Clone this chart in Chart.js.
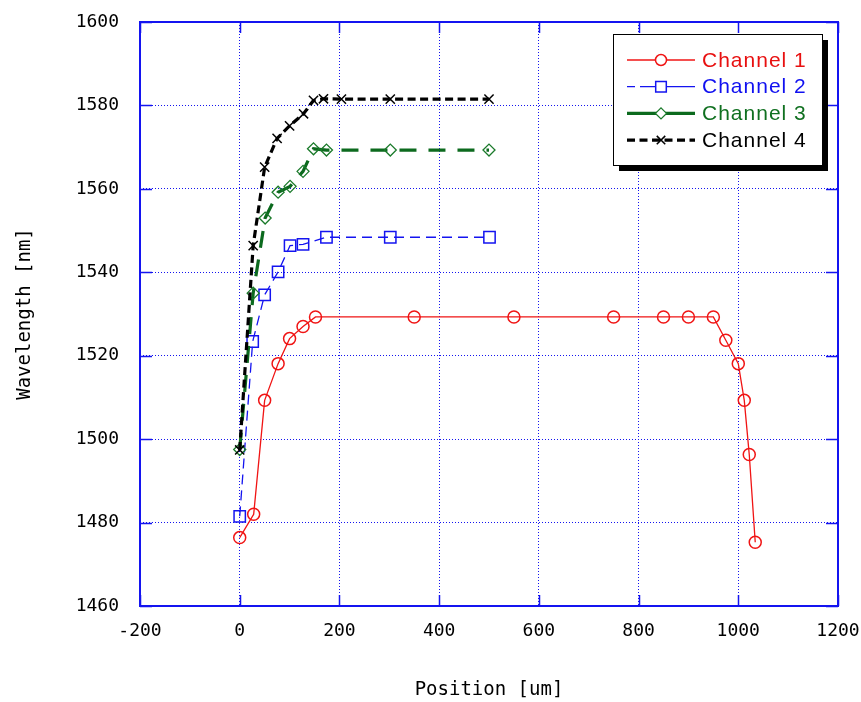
<!DOCTYPE html>
<html>
<head>
<meta charset="utf-8">
<title>Channel wavelength vs position</title>
<script src="https://cdn.jsdelivr.net/npm/chart.js@4.4.0/dist/chart.umd.min.js"></script>
<style>
  html, body { margin: 0; padding: 0; background: #fff; }
  #wrap { width: 861px; height: 702px; position: relative; }
</style>
</head>
<body>
<div id="wrap"><canvas id="chart"></canvas></div>
<script>
// position [um] / wavelength [nm] for each channel
const ch1X = [0, 28, 50, 77, 100, 127, 152, 350, 550, 750, 850, 900, 950, 975, 1000, 1012, 1022, 1034];
const ch1Y = [1476.4, 1482, 1509.3, 1518.1, 1524.1, 1527, 1529.3, 1529.3, 1529.3, 1529.3, 1529.3, 1529.3, 1529.3, 1523.7, 1518.1, 1509.3, 1496.3, 1475.3];

const ch2X = [0, 26, 50, 77, 101, 127, 174, 302, 501];
const ch2Y = [1481.5, 1523.4, 1534.6, 1540.1, 1546.4, 1546.7, 1548.4, 1548.4, 1548.4];

const ch3X = [0, 27, 51, 77, 101, 127, 148, 174, 302, 500];
const ch3Y = [1497.5, 1535, 1553, 1559.2, 1560.6, 1564.2, 1569.6, 1569.3, 1569.3, 1569.3];

const ch4X = [0, 27, 50, 75, 100, 128, 148, 168, 204, 302, 500];
const ch4Y = [1497.4, 1546.4, 1565.2, 1572.1, 1575.1, 1578, 1581.2, 1581.6, 1581.5, 1581.5, 1581.5];

const xTicks = [-200, 0, 200, 400, 600, 800, 1000, 1200];
const yTicks = [1460, 1480, 1500, 1520, 1540, 1560, 1580, 1600];

const AXIS_BLUE = '#1414f0';
const MONO = '"DejaVu Sans Mono", "Liberation Mono", monospace';

const pts = (xs, ys) => xs.map((x, i) => ({ x: x, y: ys[i] }));

// frame, inward tick marks
const framePlugin = {
  id: 'frame',
  beforeDatasetsDraw(chart) {
    const { ctx, chartArea: a, scales } = chart;
    ctx.save();
    ctx.strokeStyle = AXIS_BLUE;
    ctx.lineWidth = 1.5;
    ctx.beginPath();
    yTicks.forEach(v => {
      const y = Math.round(scales.y.getPixelForValue(v)) + 0.5;
      ctx.moveTo(a.left, y); ctx.lineTo(a.left + 12, y);
      ctx.moveTo(a.right, y); ctx.lineTo(a.right - 12, y);
    });
    xTicks.forEach(v => {
      const x = Math.round(scales.x.getPixelForValue(v)) + 0.5;
      ctx.moveTo(x, a.bottom); ctx.lineTo(x, a.bottom - 11);
      ctx.moveTo(x, a.top); ctx.lineTo(x, a.top + 11);
    });
    ctx.stroke();
    ctx.lineWidth = 2;
    ctx.strokeRect(a.left, a.top, a.right - a.left, a.bottom - a.top);
    ctx.restore();
  }
};

// boxed legend with line sample + marker, drop shadow
const boxLegend = {
  id: 'boxLegend',
  afterDraw(chart) {
    const { ctx, chartArea: a } = chart;
    const bx = a.right - 225, by = a.top + 12, bw = 209, bh = 131;
    ctx.save();
    ctx.fillStyle = '#000';
    ctx.fillRect(bx + 6, by + 6, bw, bh);
    ctx.fillStyle = '#fff';
    ctx.fillRect(bx, by, bw, bh);
    ctx.strokeStyle = '#000';
    ctx.lineWidth = 1;
    ctx.strokeRect(bx + 0.5, by + 0.5, bw, bh);

    chart.data.datasets.forEach((ds, i) => {
      const cy = by + 26 + i * 26.7;
      ctx.save();
      ctx.strokeStyle = ds.borderColor;
      ctx.lineWidth = ds.borderWidth;
      ctx.setLineDash(ds.legendDash || ds.borderDash || []);
      ctx.beginPath();
      ctx.moveTo(bx + 14, cy);
      ctx.lineTo(bx + 82, cy);
      ctx.stroke();
      ctx.setLineDash([]);
      ctx.fillStyle = '#fff';
      ctx.strokeStyle = ds.pointBorderColor;
      ctx.lineWidth = ds.pointBorderWidth;
      Chart.helpers.drawPoint(ctx, {
        pointStyle: ds.pointStyle, radius: ds.pointRadius - 0.5, rotation: 0, borderWidth: ds.pointBorderWidth
      }, bx + 48, cy);
      ctx.restore();

      ctx.fillStyle = ds.textColor;
      ctx.font = '21px "Liberation Sans", Arial, sans-serif';
      ctx.letterSpacing = '1px';
      ctx.textBaseline = 'middle';
      ctx.fillText(ds.label, bx + 89, cy + 1);
    });
    ctx.restore();
  }
};

new Chart(document.getElementById('chart'), {
  type: 'line',
  data: {
    datasets: [
      {
        label: 'Channel 1', data: pts(ch1X, ch1Y), order: 4,
        borderColor: '#f01414', borderWidth: 1.3, textColor: '#e81010',
        pointStyle: 'circle', pointRadius: 6, pointBorderWidth: 1.5,
        pointBorderColor: '#f01414', pointBackgroundColor: 'rgba(0,0,0,0)'
      },
      {
        label: 'Channel 2', data: pts(ch2X, ch2Y), order: 3,
        borderColor: '#1414f0', borderWidth: 1.3, borderDash: [10, 6], legendDash: [8, 5, 60, 0],
        textColor: '#1010f0',
        pointStyle: 'rect', pointRadius: 8, pointBorderWidth: 1.5,
        pointBorderColor: '#1414f0', pointBackgroundColor: 'rgba(0,0,0,0)'
      },
      {
        label: 'Channel 3', data: pts(ch3X, ch3Y), order: 2,
        borderColor: '#0c6a1e', borderWidth: 3.2, borderDash: [17, 12], legendDash: [30, 0],
        textColor: '#107020',
        pointStyle: 'rectRot', pointRadius: 6, pointBorderWidth: 1.3,
        pointBorderColor: '#1a7a2a', pointBackgroundColor: 'rgba(0,0,0,0)'
      },
      {
        label: 'Channel 4', data: pts(ch4X, ch4Y), order: 1,
        borderColor: '#000', borderWidth: 3.2, borderDash: [8, 4.5], textColor: '#000',
        pointStyle: 'crossRot', pointRadius: 6.5, pointBorderWidth: 1.5,
        pointBorderColor: '#000', pointBackgroundColor: 'rgba(0,0,0,0)'
      }
    ]
  },
  options: {
    responsive: true,
    maintainAspectRatio: false,
    animation: false,
    events: [],
    layout: { padding: { left: 0, top: 22, right: 23, bottom: 0 } },
    elements: { line: { tension: 0, fill: false } },
    plugins: { legend: { display: false }, tooltip: { enabled: false } },
    scales: {
      x: {
        type: 'linear', min: -200, max: 1200,
        afterBuildTicks: s => { s.ticks = xTicks.map(v => ({ value: v })); },
        afterFit: s => { s.height = 96; s.paddingLeft = 0; s.paddingRight = 0; },
        grid: { color: AXIS_BLUE, lineWidth: 1, drawTicks: false },
        border: { display: false, dash: [1, 2] },
        ticks: { color: '#000', font: { family: MONO, size: 18 }, padding: 15, maxRotation: 0,
                 callback: v => String(v) },
        title: { display: true, text: 'Position [um]', color: '#000',
                 font: { family: MONO, size: 19 }, padding: { top: 0, bottom: 1 } }
      },
      y: {
        type: 'linear', min: 1460, max: 1600,
        afterBuildTicks: s => { s.ticks = yTicks.map(v => ({ value: v })); },
        afterFit: s => { s.width = 140; s.paddingTop = 0; s.paddingBottom = 0; },
        grid: { color: AXIS_BLUE, lineWidth: 1, drawTicks: false },
        border: { display: false, dash: [1, 2] },
        ticks: { color: '#000', font: { family: MONO, size: 18 }, padding: 21,
                 callback: v => String(v) },
        title: { display: true, text: 'Wavelength [nm]', color: '#000',
                 font: { family: MONO, size: 19 }, padding: { top: 14, bottom: 0 } }
      }
    }
  },
  plugins: [framePlugin, boxLegend]
});
</script>
</body>
</html>
